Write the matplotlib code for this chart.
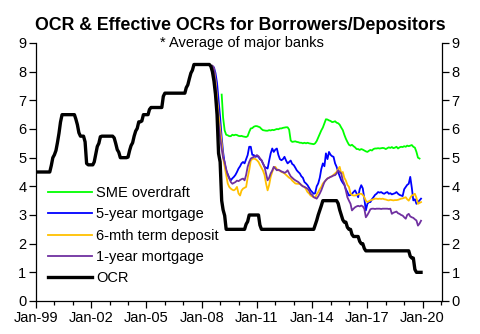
import pandas as pd
import matplotlib.pyplot as plt
import matplotlib.dates as mdates

plt.rcParams['font.family'] = ['Liberation Sans', 'DejaVu Sans']

# Official Cash Rate, monthly average, Jan 1999 - Dec 2019
ocr = ([4.5] * 10 + [4.73, 5.0]
       + [5.1, 5.25, 5.52, 5.85, 6.24] + [6.5] * 7
       + [6.5, 6.5, 6.35, 6.15, 5.87, 5.75, 5.75, 5.75, 5.55, 4.8, 4.75, 4.75]
       + [4.75, 4.75, 4.85, 5.12, 5.39, 5.5, 5.73] + [5.75] * 5
       + [5.75, 5.75, 5.75, 5.69, 5.5, 5.28, 5.19] + [5.0] * 5
       + [5.02, 5.25, 5.42, 5.52, 5.75, 5.93, 6.02, 6.25, 6.25, 6.28, 6.5, 6.5]
       + [6.5, 6.5, 6.68] + [6.75] * 8 + [7.14]
       + [7.25] * 12
       + [7.25, 7.25, 7.44, 7.54, 7.75, 7.95, 8.05] + [8.25] * 5
       + [8.25] * 6 + [8.19, 8.0, 7.67, 7.21, 6.5, 5.15]
       + [4.85, 3.5, 3.18, 2.98] + [2.5] * 8
       + [2.5] * 5 + [2.68, 2.77] + [3.0] * 5
       + [3.0, 3.0, 2.65] + [2.5] * 9
       + [2.5] * 12
       + [2.5] * 12
       + [2.5, 2.5, 2.65, 2.81, 3.0, 3.16, 3.32] + [3.5] * 5
       + [3.5] * 5 + [3.4, 3.18, 3.0, 2.83, 2.75, 2.75, 2.57]
       + [2.5, 2.5, 2.32] + [2.25] * 4 + [2.08, 2.0, 2.0, 1.83, 1.75]
       + [1.75] * 12
       + [1.75] * 12
       + [1.75] * 4 + [1.56, 1.5, 1.5, 1.1] + [1.0] * 4)

# effective OCRs (average of major banks), Feb 2009 - Nov 2019
sme_overdraft = [
    7.2, 6.4, 5.95, 5.8, 5.78, 5.75, 5.75, 5.8, 5.78, 5.8, 5.79,
    5.76, 5.75, 5.76, 5.74, 5.73, 5.72, 5.75, 5.9, 6.02, 6.03, 6.08, 6.1,
    6.1, 6.08, 6.06, 6.0, 5.96, 5.95, 5.94, 5.94, 5.96, 5.95, 5.97, 5.96,
    5.98, 6.0, 5.99, 6.02, 6.02, 6.04, 6.05, 6.06, 6.06, 5.98, 5.6, 5.55,
    5.56, 5.57, 5.55, 5.54, 5.52, 5.52, 5.5, 5.52, 5.5, 5.52, 5.5, 5.49,
    5.48, 5.47, 5.5, 5.58, 5.7, 5.82, 5.95, 6.05, 6.2, 6.34, 6.33, 6.3,
    6.28, 6.24, 6.25, 6.27, 6.22, 6.2, 6.15, 6.05, 5.96, 5.8, 5.66, 5.55,
    5.45, 5.42, 5.45, 5.4, 5.36, 5.3, 5.3, 5.27, 5.3, 5.28, 5.25, 5.22,
    5.2, 5.24, 5.27, 5.25, 5.3, 5.32, 5.32, 5.33, 5.32, 5.33, 5.34, 5.33,
    5.3, 5.33, 5.36, 5.34, 5.37, 5.33, 5.35, 5.38, 5.32, 5.36, 5.38, 5.37,
    5.4, 5.38, 5.42, 5.4, 5.42, 5.44, 5.38, 5.35, 5.2, 5.0, 4.97,
]

# Aug 2008 - Dec 2019
mortgage_5y = [
    8.2, 8.15, 7.95, 7.6, 7.0,
    6.4, 5.7, 5.2, 4.8, 4.55, 4.42, 4.3, 4.21, 4.28, 4.33, 4.4, 4.5,
    4.62, 4.7, 4.8, 4.85, 4.8, 4.95, 5.09, 5.38, 5.38, 5.1, 5.09, 5.03,
    5.05, 5.03, 4.95, 4.91, 4.8, 4.68, 4.65, 4.62, 4.9, 5.15, 5.32, 5.2,
    5.28, 5.32, 5.1, 4.95, 4.91, 4.95, 5.03, 4.9, 4.8, 4.85, 4.9, 4.78,
    4.74, 4.65, 4.56, 4.5, 4.45, 4.35, 4.3, 4.15, 4.1, 4.04, 3.95, 3.86,
    3.8, 3.74, 3.76, 4.0, 4.1, 4.3, 4.6, 4.8, 4.7, 5.15, 4.95, 5.2,
    5.1, 5.05, 5.03, 4.8, 4.68, 4.5, 4.35, 4.21, 4.12, 4.05, 3.9, 3.8,
    3.68, 3.7, 3.74, 3.8, 3.86, 3.75, 3.62, 3.9, 4.04, 3.93, 3.57, 3.16,
    3.39, 3.45, 3.45, 3.55, 3.62, 3.7, 3.74, 3.8, 3.78, 3.8, 3.76, 3.74,
    3.78, 3.8, 3.74, 3.76, 3.72, 3.74, 3.76, 3.8, 3.74, 3.7, 3.68, 3.66,
    3.9, 3.98, 4.05, 4.09, 4.33, 3.95, 3.51, 3.55, 3.39, 3.45, 3.51, 3.57,
]

term_deposit_6m = [
    8.2, 8.1, 7.7, 7.1, 6.5,
    6.0, 5.5, 5.0, 4.7, 4.4, 4.1, 3.98, 3.92, 3.88, 3.86, 3.9, 3.98,
    3.75, 3.68, 3.85, 3.92, 3.95, 3.98, 4.3, 4.56, 4.9, 4.95, 4.97, 4.95,
    4.91, 4.85, 4.75, 4.65, 4.55, 4.4, 4.1, 3.86, 4.05, 4.33, 4.5, 4.65,
    4.68, 4.6, 4.56, 4.55, 4.5, 4.48, 4.45, 4.4, 4.35, 4.3, 4.27, 4.2,
    4.15, 4.1, 4.09, 4.09, 4.08, 4.05, 4.0, 3.98, 3.9, 3.8, 3.75, 3.68,
    3.65, 3.62, 3.6, 3.72, 3.8, 3.9, 3.98, 4.1, 4.15, 4.21, 4.28, 4.3,
    4.33, 4.36, 4.4, 4.45, 4.5, 4.6, 4.68, 4.45, 4.5, 4.3, 4.2, 4.05,
    3.98, 3.75, 3.7, 3.68, 3.68, 3.7, 3.72, 3.74, 3.74, 3.7, 3.62, 3.5,
    3.45, 3.48, 3.51, 3.53, 3.55, 3.57, 3.57, 3.56, 3.57, 3.56, 3.57, 3.55,
    3.54, 3.52, 3.51, 3.53, 3.52, 3.51, 3.52, 3.52, 3.53, 3.55, 3.57, 3.58,
    3.6, 3.62, 3.55, 3.5, 3.6, 3.68, 3.7, 3.74, 3.6, 3.39, 3.42, 3.45,
]

mortgage_1y = [
    8.2, 8.1, 7.5, 6.8, 6.2,
    5.7, 5.3, 5.0, 4.85, 4.6, 4.4, 4.27, 4.15, 4.09, 4.12, 4.15, 4.2,
    4.18, 4.22, 4.25, 4.27, 4.21, 4.4, 4.68, 4.85, 4.97, 5.0, 5.03, 5.05,
    5.09, 5.05, 4.98, 4.91, 4.8, 4.68, 4.45, 4.21, 4.3, 4.45, 4.55, 4.68,
    4.62, 4.56, 4.58, 4.55, 4.52, 4.5, 4.47, 4.5, 4.56, 4.45, 4.35, 4.3,
    4.25, 4.21, 4.18, 4.15, 4.1, 4.04, 4.0, 3.98, 3.95, 3.92, 3.85, 3.74,
    3.7, 3.62, 3.6, 3.57, 3.65, 3.75, 3.86, 4.0, 4.15, 4.22, 4.27, 4.3,
    4.33, 4.35, 4.38, 4.39, 4.45, 4.56, 4.5, 4.45, 4.2, 4.09, 3.85, 3.62,
    3.5, 3.39, 3.16, 3.22, 3.27, 3.3, 3.32, 3.3, 3.33, 3.3, 3.22, 2.92,
    3.0, 3.1, 3.2, 3.22, 3.22, 3.21, 3.22, 3.22, 3.22, 3.21, 3.22, 3.22,
    3.22, 3.22, 3.21, 3.22, 3.04, 3.08, 3.1, 3.12, 3.06, 3.04, 3.0, 2.98,
    2.92, 2.87, 3.0, 3.04, 2.95, 2.92, 2.9, 2.85, 2.81, 2.63, 2.7, 2.8,
]

ocr_dates = pd.date_range('1999-01-01', periods=len(ocr), freq='MS')
rate_dates = pd.date_range('2008-08-01', periods=len(mortgage_5y), freq='MS')
sme_dates = pd.date_range('2009-02-01', periods=len(sme_overdraft), freq='MS')

fig = plt.figure(figsize=(4.8, 3.34), dpi=100)
ax = fig.add_axes([36 / 480, 33 / 334, 406 / 480, 258 / 334])

ax.plot(sme_dates, sme_overdraft, color='#00FF00', lw=1.3, label='SME overdraft')
ax.plot(rate_dates, mortgage_5y, color='#0000FF', lw=1.3, label='5-year mortgage')
ax.plot(rate_dates, term_deposit_6m, color='#FFC000', lw=1.3, label='6-mth term deposit')
ax.plot(rate_dates, mortgage_1y, color='#7030A0', lw=1.3, label='1-year mortgage')
ax.plot(ocr_dates, ocr, color='black', lw=2.4, label='OCR')

ax.set_xlim(pd.Timestamp('1999-01-01'), pd.Timestamp('2021-01-20'))
ax.set_ylim(0, 9)
ax.set_yticks(range(10))

# labelled ticks every three years from Jan-99, small ticks every year
ax.set_xticks(pd.date_range('1999-01-01', '2020-01-01', freq='36MS'))
ax.set_xticks(pd.date_range('1999-01-01', '2021-01-01', freq='12MS'), minor=True)
ax.xaxis.set_major_formatter(mdates.DateFormatter('%b-%y'))

ax.spines['top'].set_visible(False)
for side in ['left', 'right', 'bottom']:
    ax.spines[side].set_linewidth(0.9)
ax.tick_params(axis='both', which='both', direction='out', width=0.9,
               labelsize=10.5, pad=2)
ax.tick_params(axis='x', which='major', length=5)
ax.tick_params(axis='x', which='minor', length=3)
ax.tick_params(axis='y', length=5, right=True, labelright=True)

fig.text(0.5, 0.925, 'OCR & Effective OCRs for Borrowers/Depositors',
         ha='center', va='center', fontsize=12.8, fontweight='bold')
fig.text(0.503, 0.872, '* Average of major banks', ha='center', va='center',
         fontsize=10.5)

ax.legend(loc='upper left', bbox_to_anchor=(0.03, 0.445), frameon=False,
          fontsize=10.5, handlelength=3.0, handletextpad=0.3,
          labelspacing=0.5, borderpad=0, borderaxespad=0)

fig.savefig('out.png', dpi=100)
